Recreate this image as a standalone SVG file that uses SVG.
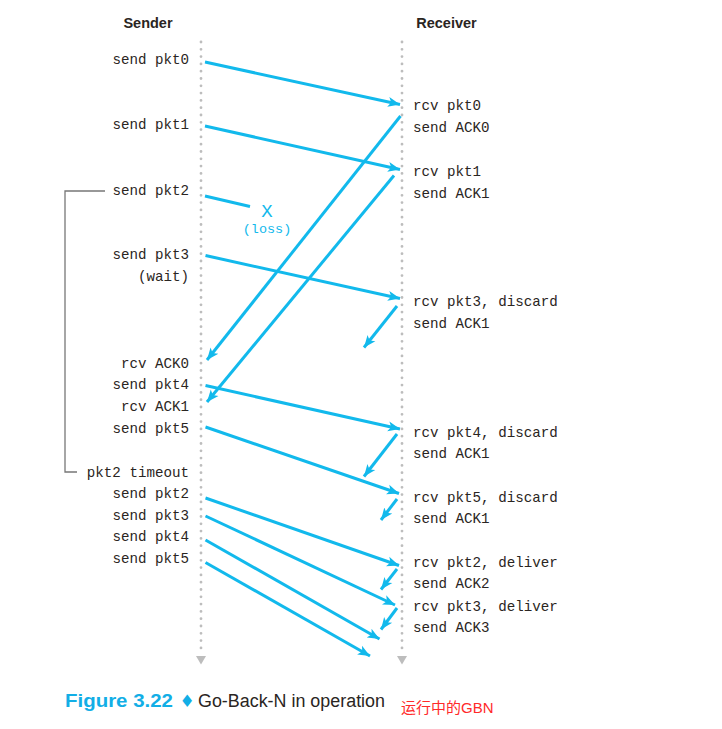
<svg xmlns="http://www.w3.org/2000/svg" width="722" height="729" viewBox="0 0 722 729">
<style>
.t{font-family:"Liberation Mono","DejaVu Sans Mono",monospace;font-size:14.2px;fill:#2a2522}
.r{text-anchor:end}
.h{font-family:"Liberation Sans",Arial,sans-serif;font-size:14.5px;font-weight:bold;fill:#2a2522;text-anchor:middle}
.a{stroke:#12b9ec;stroke-width:3;fill:none;marker-end:url(#ah)}
.l{stroke:#12b9ec;stroke-width:3;fill:none}
.d{stroke:#bdbdbd;stroke-width:2.8;stroke-linecap:round;stroke-dasharray:0 7.3;fill:none}
</style>
<defs>
<marker id="ah" markerUnits="userSpaceOnUse" markerWidth="14" markerHeight="12" refX="12" refY="5" orient="auto" viewBox="0 0 14 10">
<path d="M0,0 L12,5 L0,10 L3,5 z" fill="#12b9ec"/>
</marker>
</defs>
<rect width="722" height="729" fill="#fff"/>
<g id="lifelines">
<line class="d" x1="201" y1="42" x2="201" y2="652"/>
<line class="d" x1="402" y1="42" x2="402" y2="652"/>
<path d="M196,656 L206,656 L201,664.5 z" fill="#bdbdbd"/>
<path d="M397,656 L407,656 L402,664.5 z" fill="#bdbdbd"/>
</g>
<g id="titles">
<text class="h" x="148" y="28">Sender</text>
<text class="h" x="446.5" y="28">Receiver</text>
</g>
<g id="bracket">
<path d="M105,191 H65 V472 H77" stroke="#777" stroke-width="1.3" fill="none"/>
</g>
<g id="sender-events">
<text class="t r" x="189" y="64">send pkt0</text>
<text class="t r" x="189" y="129">send pkt1</text>
<text class="t r" x="189" y="195">send pkt2</text>
<text class="t r" x="189" y="259">send pkt3</text>
<text class="t r" x="189" y="281">(wait)</text>
<text class="t r" x="189" y="368">rcv ACK0</text>
<text class="t r" x="189" y="389">send pkt4</text>
<text class="t r" x="189" y="411">rcv ACK1</text>
<text class="t r" x="189" y="433">send pkt5</text>
<text class="t r" x="189" y="477">pkt2 timeout</text>
<text class="t r" x="189" y="498">send pkt2</text>
<text class="t r" x="189" y="520">send pkt3</text>
<text class="t r" x="189" y="541">send pkt4</text>
<text class="t r" x="189" y="563">send pkt5</text>
</g>
<g id="receiver-events">
<text class="t" x="413" y="110">rcv pkt0</text>
<text class="t" x="413" y="132">send ACK0</text>
<text class="t" x="413" y="176">rcv pkt1</text>
<text class="t" x="413" y="198">send ACK1</text>
<text class="t" x="413" y="306">rcv pkt3, discard</text>
<text class="t" x="413" y="328">send ACK1</text>
<text class="t" x="413" y="437">rcv pkt4, discard</text>
<text class="t" x="413" y="458">send ACK1</text>
<text class="t" x="413" y="502">rcv pkt5, discard</text>
<text class="t" x="413" y="523">send ACK1</text>
<text class="t" x="413" y="567">rcv pkt2, deliver</text>
<text class="t" x="413" y="588">send ACK2</text>
<text class="t" x="413" y="611">rcv pkt3, deliver</text>
<text class="t" x="413" y="632">send ACK3</text>
</g>
<g id="loss">
<text x="267" y="217" font-family="Liberation Mono,monospace" font-size="19" fill="#12b9ec" text-anchor="middle">X</text>
<text x="267" y="233" font-family="Liberation Mono,monospace" font-size="13.5" fill="#12b9ec" text-anchor="middle">(loss)</text>
</g>
<g id="connectors">
<line class="a" x1="205" y1="62" x2="400" y2="104.5"/>
<line class="a" x1="205" y1="126" x2="400" y2="169.5"/>
<line class="l" x1="205" y1="196" x2="250" y2="206.5"/>
<line class="a" x1="400.5" y1="116" x2="207" y2="360"/>
<line class="a" x1="394" y1="175.5" x2="207" y2="402"/>
<line class="a" x1="205.5" y1="255.5" x2="400" y2="298.5"/>
<line class="a" x1="397" y1="306" x2="364" y2="347.5"/>
<line class="a" x1="205.5" y1="385.5" x2="400" y2="429"/>
<line class="a" x1="397" y1="434" x2="364" y2="476.5"/>
<line class="a" x1="205.5" y1="427" x2="399" y2="493.5"/>
<line class="a" x1="397" y1="499" x2="381" y2="520"/>
<line class="a" x1="205.5" y1="498" x2="399" y2="565.5"/>
<line class="a" x1="397" y1="569" x2="381" y2="589.5"/>
<line class="a" x1="205.5" y1="516" x2="395" y2="605"/>
<line class="a" x1="397" y1="608" x2="381" y2="629.5"/>
<line class="a" x1="205.5" y1="540" x2="379.5" y2="639"/>
<line class="a" x1="205.5" y1="562.5" x2="370" y2="656"/>
</g>
<g id="caption">
<text x="65" y="707" font-family="Liberation Sans,Arial,sans-serif" font-size="18" font-weight="bold" fill="#12aee6" textLength="108" lengthAdjust="spacingAndGlyphs">Figure 3.22</text>
<text x="187" y="707" font-family="DejaVu Sans,sans-serif" font-size="17" fill="#12aee6" text-anchor="middle">♦</text>
<text x="198" y="707" font-family="Liberation Sans,Arial,sans-serif" font-size="18" fill="#2a2522" textLength="187" lengthAdjust="spacingAndGlyphs">Go-Back-N in operation</text>
<text x="401" y="713" font-family="Liberation Sans,Noto Sans CJK SC,sans-serif" font-size="15" fill="#ff2a2a">运行中的GBN</text>
</g>
</svg>
